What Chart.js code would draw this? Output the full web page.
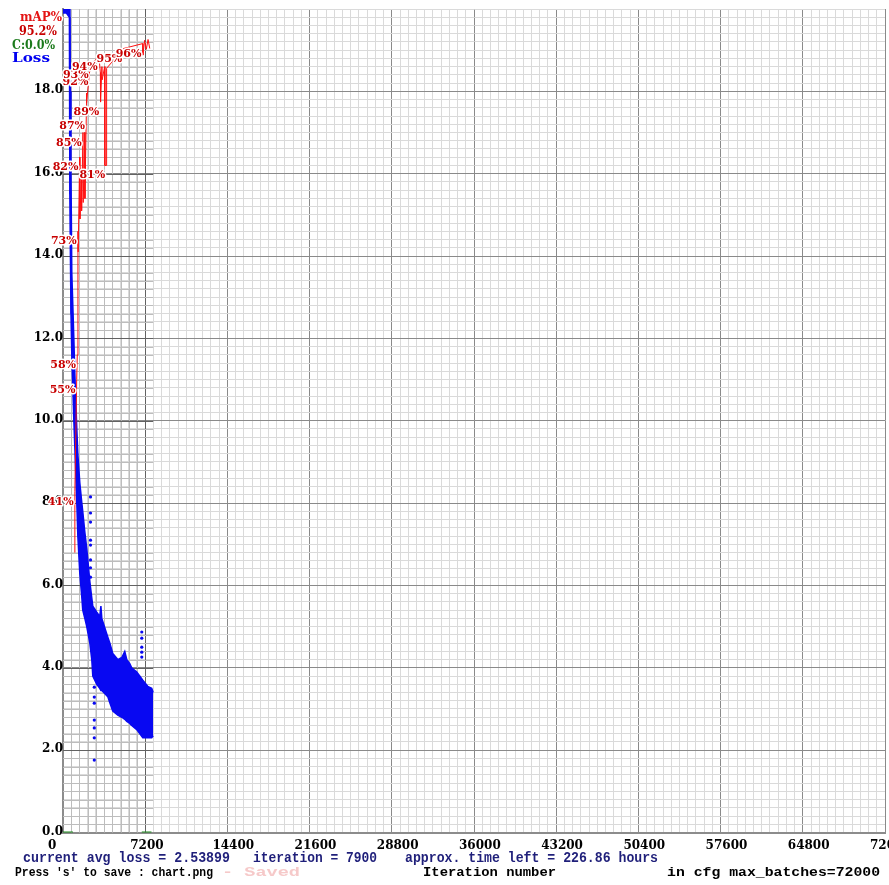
<!DOCTYPE html>
<html>
<head>
<meta charset="utf-8">
<script src="https://cdn.jsdelivr.net/npm/chart.js@4.4.1/dist/chart.umd.min.js"></script>
<style>
  html, body { margin: 0; padding: 0; background: #ffffff; }
  canvas { display: block; }
</style>
</head>
<body>
<canvas id="chart" width="889" height="885"></canvas>
<script>
// ---- training log: loss envelope per iteration window ----
const lossIter = [0, 300, 560, 600, 650, 700, 770, 860, 950, 1030, 1120, 1210, 1300, 1470, 1650, 1730, 1910, 2080, 2350, 2520, 2610, 2960, 3220, 3320, 3400, 3570, 3920, 4100, 4360, 4800, 5150, 5410, 5590, 5850, 6020, 6460, 6720, 6990, 7420, 7770, 7900];
const lossHigh = [22, 22, 22, 20.5, 18, 16, 13.6, 12.8, 12.0, 11.2, 10.5, 9.8, 9.2, 8.5, 8.0, 7.8, 7.3, 6.9, 6.1, 5.7, 5.5, 5.35, 5.25, 5.5, 5.2, 5.05, 4.75, 4.6, 4.35, 4.2, 4.25, 4.4, 4.2, 4.1, 4.0, 3.9, 3.8, 3.7, 3.55, 3.5, 3.4];
const lossLow  = [19.9, 19.9, 19.8, 15.5, 14, 12.6, 11.6, 10.8, 10.0, 9.4, 8.7, 8.0, 7.2, 6.3, 5.7, 5.4, 5.2, 5.0, 4.6, 4.2, 3.8, 3.6, 3.5, 3.45, 3.45, 3.4, 3.3, 3.15, 2.95, 2.85, 2.8, 2.75, 2.7, 2.65, 2.6, 2.5, 2.4, 2.3, 2.3, 2.3, 2.35];

// isolated loss readings outside the main band
const strayIter = [2410, 2410, 2410, 2410, 2410, 2410, 2410, 2410, 2740, 2740, 2740, 2740, 2740, 2740, 2740, 6900, 6900, 6900, 6900, 6900];
const strayLoss = [8.15, 7.76, 7.54, 7.10, 6.98, 6.62, 6.43, 6.2, 3.53, 3.29, 3.14, 2.73, 2.54, 2.30, 1.76, 4.87, 4.72, 4.5, 4.38, 4.26];

// mAP checkpoints (percent) and which ones carry a text tag
const mapIter   = [1030, 1040, 1200, 1250, 1310, 1330, 1460, 1480, 1610, 1630, 1750, 1770, 1900, 1920, 2040, 2060, 2070, 2330, 2360, 3150, 3270, 3290, 3410, 3430, 3650, 3670, 3800, 3820, 5300, 6980, 7000, 7150, 7300, 7450, 7600];
const mapPct    = [34, 41.4, 55, 58, 73, 70.5, 82, 74.5, 79.5, 75.5, 85, 76.5, 85, 77, 87, 89.8, 88.6, 92.4, 93.2, 94.2, 92.3, 88.7, 93, 91.4, 93, 81, 81, 92.8, 95.2, 95.8, 94.4, 96.2, 95.1, 96.3, 95.2];
const mapTagged = [0, 1, 1, 1, 1, 0, 1, 0, 0, 0, 1, 0, 0, 0, 1, 0, 0, 1, 1, 1, 0, 1, 0, 0, 0, 0, 1, 0, 1, 1, 0, 0, 0, 0, 0];

// contrastive accuracy (percent), null breaks the line
const contrastIter = [0, 870, 3000, 6900, 7750];
const contrastPct  = [0, 0, null, 0, 0];

// axes
const maxBatches = 72000;
const lossTop = 20;
const xMajor = 7200, xMinor = 720;
const yMajor = 2, yMinor = 0.2;

const isMult = (v, s) => Math.abs(v / s - Math.round(v / s)) < 1e-6;
const toXY = (xs, ys) => xs.map((x, i) => ({ x, y: ys[i] }));

const serif = '"DejaVu Serif", serif';
const mono = '"Liberation Mono", monospace';

// text drawn to a given width (horizontal scaling only)
function putText(ctx, str, x, y, font, color, width, halo) {
  ctx.save();
  ctx.font = font;
  ctx.textAlign = 'left';
  ctx.textBaseline = 'alphabetic';
  const w = ctx.measureText(str).width;
  const s = width ? width / w : 1;
  ctx.translate(x, y);
  ctx.scale(s, 1);
  if (halo) {
    ctx.lineJoin = 'round';
    ctx.lineWidth = 3;
    ctx.strokeStyle = '#ffffff';
    ctx.strokeText(str, 0, 0);
  }
  ctx.fillStyle = color;
  ctx.fillText(str, 0, 0);
  ctx.restore();
}

// darker grid over the span that has already been trained
const trainedGrid = {
  id: 'trainedGrid',
  beforeDatasetsDraw(chart) {
    const { ctx, chartArea: a, scales: { x, y } } = chart;
    const last = lossIter[lossIter.length - 1];
    const xEnd = x.getPixelForValue(last);
    ctx.save();
    ctx.lineWidth = 1;
    for (let v = xMinor; v <= last; v += xMinor) {
      const px = Math.round(x.getPixelForValue(v)) + 0.5;
      ctx.strokeStyle = isMult(v, xMajor) ? '#626262' : '#bdbdbd';
      ctx.beginPath(); ctx.moveTo(px, a.top); ctx.lineTo(px, a.bottom); ctx.stroke();
    }
    for (let k = 1; k < lossTop / yMinor; k++) {
      const v = k * yMinor;
      const py = Math.round(y.getPixelForValue(v)) + 0.5;
      ctx.strokeStyle = isMult(v, yMajor) ? '#626262' : '#bdbdbd';
      ctx.beginPath(); ctx.moveTo(a.left, py); ctx.lineTo(xEnd, py); ctx.stroke();
    }
    ctx.restore();
  }
};

// mAP value tags along the red line
const mapTags = {
  id: 'mapTags',
  afterDatasetsDraw(chart) {
    const { ctx, scales: { x, yMap } } = chart;
    mapIter.forEach((it, i) => {
      if (!mapTagged[i]) return;
      const px = x.getPixelForValue(it);
      const py = yMap.getPixelForValue(mapPct[i]);
      putText(ctx, Math.round(mapPct[i]) + '%', px - 27, py + 13, 'bold 11px ' + serif, '#c80000', null, true);
    });
  }
};

// header legend and status lines
const captions = {
  id: 'captions',
  afterDraw(chart) {
    const ctx = chart.ctx;
    const lastMap = mapPct[mapPct.length - 1];
    const lastC = contrastPct[contrastPct.length - 1];
    putText(ctx, 'mAP%', 20, 21, 'bold 12px ' + serif, '#e41414', 42, true);
    putText(ctx, lastMap.toFixed(1) + '%', 19, 35, 'bold 12px ' + serif, '#c80000', 38, true);
    putText(ctx, 'C:' + lastC.toFixed(1) + '%', 12, 49, 'bold 12px ' + serif, '#1b7a1b', 43, true);
    putText(ctx, 'Loss', 12, 62, 'bold 13px ' + serif, '#0000f0', 38, true);

    const navy = '#1f1f7a';
    putText(ctx, 'current avg loss = 2.53899', 23, 862, 'bold 14px ' + mono, navy, 207);
    putText(ctx, 'iteration = ' + lossIter[lossIter.length - 1], 253, 862, 'bold 14px ' + mono, navy, 124);
    putText(ctx, 'approx. time left = 226.86 hours', 405, 862, 'bold 14px ' + mono, navy, 253);
    putText(ctx, "Press 's' to save : chart.png", 15, 876, 'bold 13px ' + mono, '#000000', 198);
    putText(ctx, '- Saved', 222, 876, 'bold 13px ' + mono, '#f6c9c9', 78);
    putText(ctx, 'Iteration number', 423, 876, 'bold 13px ' + mono, '#000000', 133);
    putText(ctx, 'in cfg max_batches=' + maxBatches, 667, 876, 'bold 13px ' + mono, '#000000', 213);
  }
};

const blue = '#0808f2';

new Chart(document.getElementById('chart'), {
  type: 'line',
  data: {
    datasets: [
      {
        label: 'mAP%',
        data: toXY(mapIter, mapPct),
        yAxisID: 'yMap',
        borderColor: '#ff1010',
        borderWidth: 1,
        pointRadius: 0,
        fill: false,
        tension: 0
      },
      {
        label: 'C',
        data: toXY(contrastIter, contrastPct),
        yAxisID: 'yMap',
        borderColor: '#1b8a1b',
        borderWidth: 2,
        pointRadius: 0,
        spanGaps: false,
        fill: false
      },
      {
        label: 'Loss (stray)',
        data: toXY(strayIter, strayLoss),
        yAxisID: 'y',
        showLine: false,
        pointRadius: 1.6,
        pointBackgroundColor: blue,
        pointBorderWidth: 0
      },
      {
        label: 'Loss high',
        data: toXY(lossIter, lossHigh),
        yAxisID: 'y',
        borderColor: blue,
        borderWidth: 1.5,
        backgroundColor: blue,
        pointRadius: 0,
        fill: '+1',
        tension: 0
      },
      {
        label: 'Loss low',
        data: toXY(lossIter, lossLow),
        yAxisID: 'y',
        borderColor: blue,
        borderWidth: 1.5,
        pointRadius: 0,
        fill: false,
        tension: 0
      }
    ]
  },
  options: {
    responsive: false,
    animation: false,
    devicePixelRatio: 1,
    events: [],
    layout: { padding: { top: 9, right: 3, left: 0, bottom: 0 } },
    plugins: { legend: { display: false }, tooltip: { enabled: false }, title: { display: false } },
    scales: {
      x: {
        type: 'linear',
        min: 0,
        max: maxBatches,
        afterFit(s) { s.height = 52.5; s.paddingLeft = 0; s.paddingRight = 0; },
        ticks: {
          stepSize: xMinor,
          autoSkip: false,
          maxRotation: 0,
          align: 'start',
          labelOffset: -15,
          padding: 6,
          color: '#000000',
          font: { family: serif, size: 12, weight: 'bold' },
          callback: (v) => isMult(v, xMajor) ? String(v) : ''
        },
        grid: {
          drawTicks: false,
          lineWidth: 1,
          color: (c) => (c.tick && isMult(c.tick.value, xMajor)) ? '#8a8a8a' : '#dadada'
        },
        border: { color: '#8c8c8c', width: 2 }
      },
      y: {
        type: 'linear',
        min: 0,
        max: lossTop,
        afterFit(s) { s.width = 63; s.paddingTop = 0; s.paddingBottom = 0; },
        ticks: {
          stepSize: yMinor,
          autoSkip: false,
          padding: 0,
          labelOffset: -1,
          color: '#000000',
          font: { family: serif, size: 12, weight: 'bold' },
          callback: (v) => (isMult(v, yMajor) && v < lossTop - 1e-6) ? v.toFixed(1) : ''
        },
        grid: {
          drawTicks: false,
          lineWidth: 1,
          color: (c) => (c.tick && isMult(c.tick.value, yMajor) && c.tick.value < lossTop - 1e-6) ? '#8a8a8a' : '#dadada'
        },
        border: { color: '#8c8c8c', width: 2 }
      },
      yMap: {
        type: 'linear',
        display: false,
        min: 0,
        max: 100
      }
    }
  },
  plugins: [trainedGrid, mapTags, captions]
});
</script>
</body>
</html>
